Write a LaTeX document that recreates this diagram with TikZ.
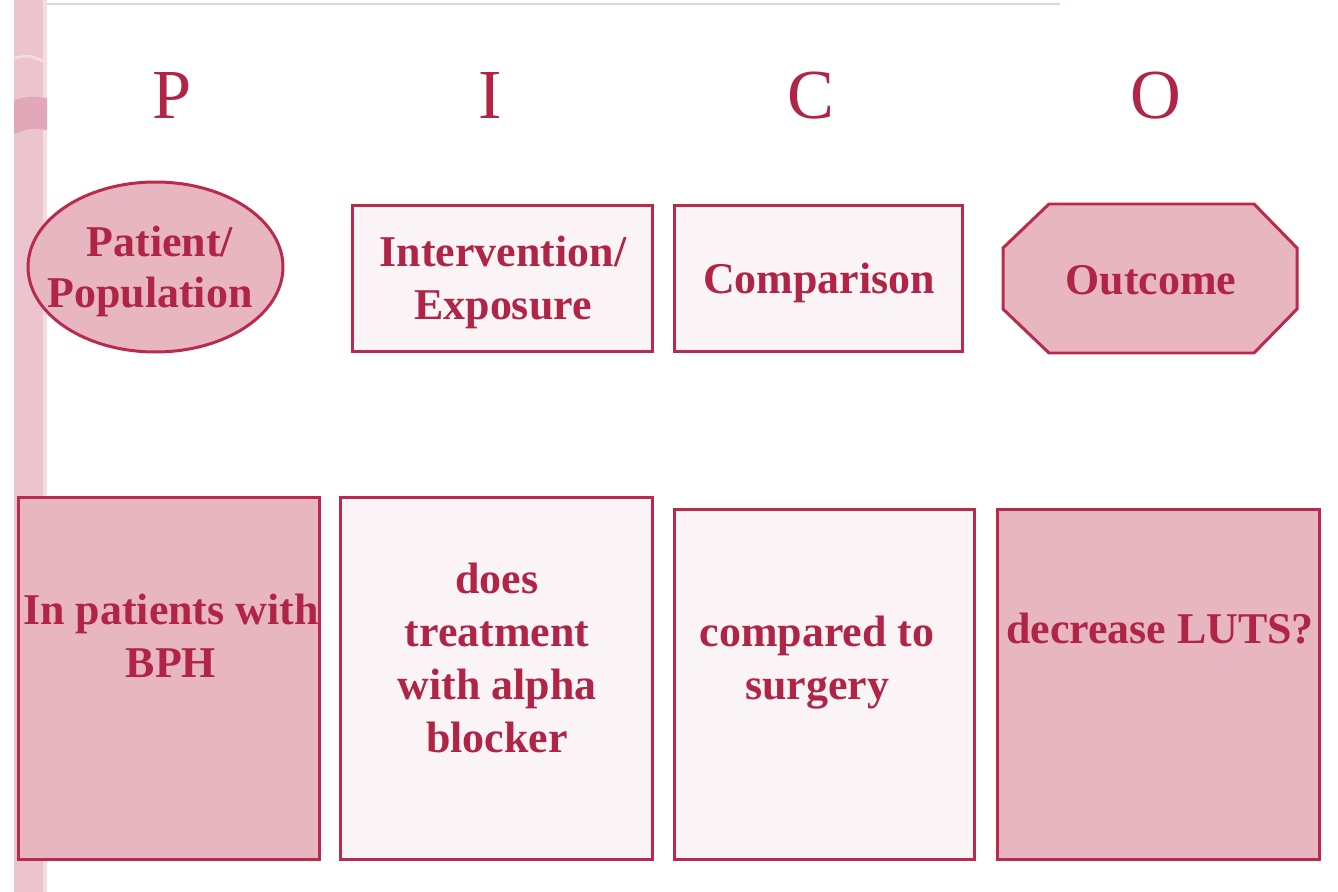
\documentclass[tikz,border=0pt]{standalone}
\usepackage{fontspec}
\setmainfont{Liberation Serif}
\usetikzlibrary{shapes.geometric}

\definecolor{crim}{RGB}{176,36,70}
\definecolor{edge}{RGB}{186,42,76}
\definecolor{pinkfill}{RGB}{231,182,193}
\definecolor{palefill}{RGB}{251,244,246}
\definecolor{stripc}{RGB}{236,196,206}
\definecolor{stripdark}{RGB}{226,168,186}
\definecolor{striplight}{RGB}{244,220,227}
\definecolor{rulec}{RGB}{232,206,215}

\tikzset{
  frame/.style={draw=edge, line width=1.7pt, inner sep=0pt},
  pinkbox/.style={frame, rectangle, fill=pinkfill},
  palebox/.style={frame, rectangle, fill=palefill},
  txt/.style={text=crim, font=\bfseries\fontsize{25}{30}\selectfont, anchor=base, inner sep=0pt},
  head/.style={text=crim, font=\fontsize{40}{48}\selectfont, anchor=base, inner sep=0pt}
}

\begin{document}
\begin{tikzpicture}[x=0.02cm, y=-0.02cm]
\useasboundingbox (0,0) rectangle (1338,892);
\fill[white] (0,0) rectangle (1338,892);

% decorative side strip and top rule
\fill[stripc] (14,0) rectangle (47,892);
\fill[striplight] (43,0) rectangle (47,892);
\fill[stripdark] (14,100) .. controls (30,96) .. (47,98) -- (47,130) .. controls (30,128) .. (14,134) -- cycle;
\draw[striplight, line width=1.5pt] (14,58) .. controls (30,55) .. (47,63);
\draw[rulec, line width=1.7pt] (47,4) -- (1060,4);

% column letters
\node[head] (hP) at (172,118) {P};
\node[head] (hI) at (490,118) {I};
\node[head] (hC) at (811,118) {C};
\node[head] (hO) at (1156,118) {O};

% category shapes
\node[frame, ellipse, fill=pinkfill, minimum width=5.1cm, minimum height=3.4cm] (pop) at (155.5,267) {};
\node[palebox, minimum width=6.02cm, minimum height=2.94cm] (int) at (502.5,278.5) {};
\node[palebox, minimum width=5.78cm, minimum height=2.94cm] (cmp) at (818.5,278.5) {};
\draw[frame, fill=pinkfill, line join=miter]
  (1003,248) -- (1049,204) -- (1254,204) -- (1297,248) -- (1297,309)
  -- (1254,353) -- (1049,353) -- (1003,309) -- cycle;

\node[txt] (popA) at (160,256) {Patient/};
\node[txt] (popB) at (150,307) {Population};
\node[txt] (intA) at (503,266) {Intervention/};
\node[txt] (intB) at (503,319) {Exposure};
\node[txt] (cmpA) at (819,293) {Comparison};
\node[txt] (outA) at (1151,294) {Outcome};

% question boxes
\node[pinkbox, minimum width=6.04cm, minimum height=7.26cm] (qP) at (169,678.5) {};
\node[palebox, minimum width=6.26cm, minimum height=7.26cm] (qI) at (496.5,678.5) {};
\node[palebox, minimum width=6.02cm, minimum height=7.02cm] (qC) at (824.5,684.5) {};
\node[pinkbox, minimum width=6.46cm, minimum height=7.02cm] (qO) at (1158.5,684.5) {};

\node[txt] (qP1) at (171,624) {In patients with};
\node[txt] (qP2) at (171,677) {BPH};
\node[txt] (qI1) at (497,593) {does};
\node[txt] (qI2) at (497,646) {treatment};
\node[txt] (qI3) at (497,699) {with alpha};
\node[txt] (qI4) at (497,752) {blocker};
\node[txt] (qC1) at (817,646) {compared to};
\node[txt] (qC2) at (817,699) {surgery};
\node[txt] (qO1) at (1160,643) {decrease LUTS?};
\end{tikzpicture}
\end{document}
